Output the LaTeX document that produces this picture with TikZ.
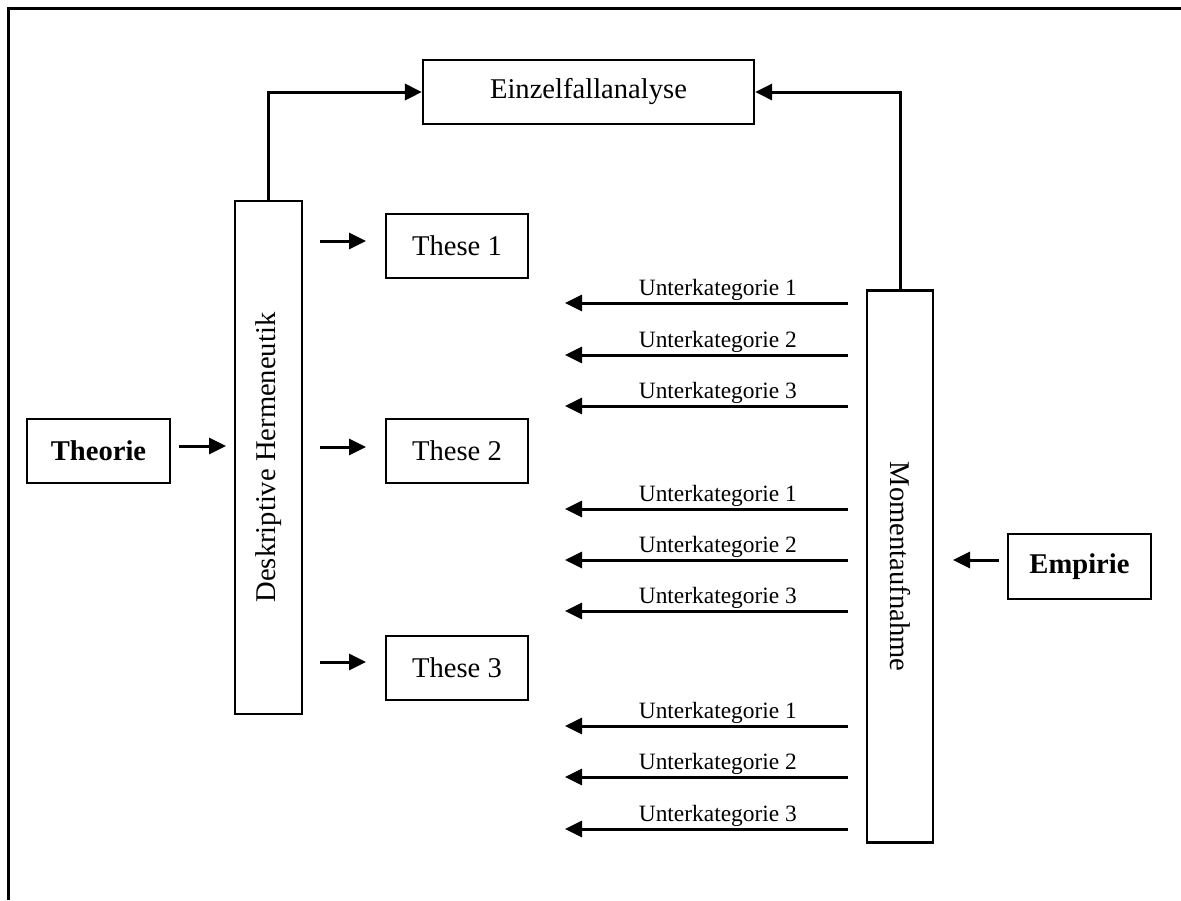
\documentclass[tikz,border=0pt]{standalone}
\usepackage{fontspec}
\setmainfont{Liberation Serif}
\usetikzlibrary{arrows.meta, positioning}

\newcommand{\bigtext}{\fontsize{28.6}{34}\selectfont}
\newcommand{\smalltext}{\fontsize{23.4}{28}\selectfont}

\begin{document}
\begin{tikzpicture}[
  x=1pt, y=-1pt,
  box/.style={rectangle, draw, line width=2.2pt, inner sep=0pt, font=\bigtext, text centered},
  thesis/.style={box, minimum width=142pt, minimum height=64pt},
  arrow/.style={-{Triangle[length=17pt, width=16pt]}, line width=3pt},
  sublabel/.style={above, font=\smalltext, inner sep=1pt, pos=0.46}
]
\useasboundingbox (0,0) rectangle (1181,900);
\draw[line width=3pt] (8,900) -- (8,8) -- (1181,8);

% boxes
\node[box, minimum width=331pt, minimum height=64pt] (einz) at (588.5,92) {Einzelfallanalyse};
\node[box, font=\bfseries\bigtext, minimum width=143pt, minimum height=64pt] (theo) at (98.5,451) {Theorie};
\node[box, rotate=90, minimum width=513pt, minimum height=67pt] (desk) at (268.5,457.5) {Deskriptive Hermeneutik};
\node[thesis] (t1) at (457,246) {These 1};
\node[thesis] (t2) at (457,451) {These 2};
\node[thesis] (t3) at (457,668) {These 3};
\node[box, rotate=-90, minimum width=552pt, minimum height=66pt] (mom) at (900,566.5) {Momentaufnahme};
\node[box, font=\bfseries\bigtext, minimum width=143pt, minimum height=65pt] (emp) at (1079.5,566.5) {Empirie};

% connectors (rotated boxes: east/west are their tops)
\draw[arrow] (desk.east) |- (einz.west);
\draw[arrow] (mom.west) |- (einz.east);
\draw[arrow] (179,446) -- (226,446);
\draw[arrow] (999,560) -- (953,560);
\foreach \t/\y in {t1/241, t2/447, t3/662}
  \draw[arrow] (320,\y) -- (366,\y);

% sub-categories
\foreach \y [count=\i] in {303,355,406,509,560,611,726,777,829} {
  \pgfmathtruncatemacro{\k}{mod(\i-1,3)+1}
  \coordinate (s\i) at (848,\y);
  \coordinate (e\i) at (565,\y);
  \draw[arrow] (s\i) -- node[sublabel] {Unterkategorie \k} (e\i);
}
\end{tikzpicture}
\end{document}
